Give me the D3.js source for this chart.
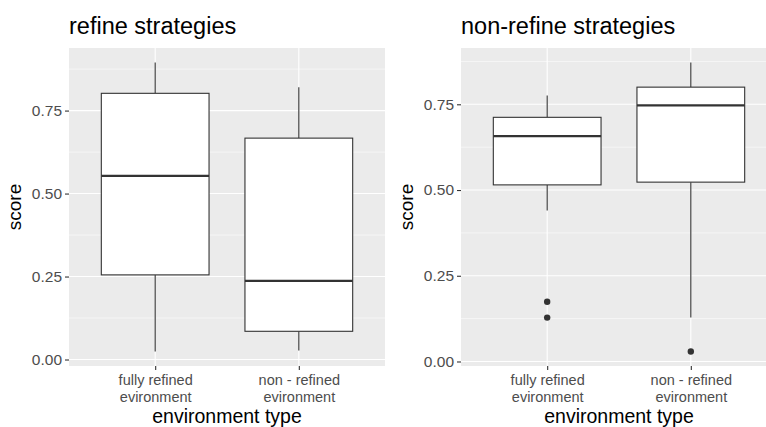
<!DOCTYPE html>
<html>
<head>
<meta charset="utf-8">
<script src="https://cdn.jsdelivr.net/npm/d3@7"></script>
<style>
  html, body { margin: 0; padding: 0; background: #fff; }
  svg { display: block; font-family: "Liberation Sans", Arial, Helvetica, sans-serif; }
</style>
</head>
<body>
<svg id="chart" width="766" height="427"></svg>
<script>
// ---- data ----
const categories = ["fully refined\nevironment", "non - refined\nevironment"];
const panelTitles = ["refine strategies", "non-refine strategies"];
const yTicks = [0, 0.25, 0.5, 0.75];
const yMinorTicks = [0.125, 0.375, 0.625, 0.875];

// [whisker low, q1, median, q3, whisker high]
const refineStats = [
  [0.024, 0.255, 0.553, 0.802, 0.895],
  [0.027, 0.085, 0.237, 0.667, 0.820]
];
const refineOutliers = [[], []];

const nonRefineStats = [
  [0.440, 0.515, 0.657, 0.712, 0.776],
  [0.128, 0.523, 0.747, 0.800, 0.872]
];
const nonRefineOutliers = [[0.174, 0.128], [0.029]];

const xTitle = "environment type";
const yTitle = "score";

// ---- drawing ----
const svg = d3.select("#chart");
const panels = [
  { left: 69, stats: refineStats, outliers: refineOutliers, title: panelTitles[0] },
  { left: 461, stats: nonRefineStats, outliers: nonRefineOutliers, title: panelTitles[1] }
];
const panelW = 316, pTop = 48, pBottom = 366;

panels.forEach(p => {
  const g = svg.append("g");
  const allVals = p.stats.flat().concat(p.outliers.flat());
  const lo = d3.min(allVals), hi = d3.max(allVals);
  const pad = (hi - lo) * 0.05;
  const y = d3.scaleLinear().domain([lo - pad, hi + pad]).range([pBottom, pTop]);
  const x = d3.scalePoint().domain(categories).range([p.left, p.left + panelW]).padding(0.6);
  const bw = x.step() * 0.75;

  // background
  g.append("rect").attr("x", p.left).attr("y", pTop).attr("width", panelW).attr("height", pBottom - pTop).attr("fill", "#EBEBEB");
  // minor grid
  g.selectAll(".minor").data(yMinorTicks).enter().append("line")
    .attr("x1", p.left).attr("x2", p.left + panelW)
    .attr("y1", d => y(d)).attr("y2", d => y(d))
    .attr("stroke", "#fff").attr("stroke-width", 0.55);
  // major grid
  g.selectAll(".major").data(yTicks).enter().append("line")
    .attr("x1", p.left).attr("x2", p.left + panelW)
    .attr("y1", d => y(d)).attr("y2", d => y(d))
    .attr("stroke", "#fff").attr("stroke-width", 1.1);
  g.selectAll(".vmajor").data(categories).enter().append("line")
    .attr("x1", d => x(d)).attr("x2", d => x(d))
    .attr("y1", pTop).attr("y2", pBottom)
    .attr("stroke", "#fff").attr("stroke-width", 1.1);

  // boxes
  categories.forEach((c, i) => {
    const s = p.stats[i];
    const cx = x(c);
    const bg = g.append("g");
    bg.append("line").attr("x1", cx).attr("x2", cx).attr("y1", y(s[4])).attr("y2", y(s[3]))
      .attr("stroke", "#333").attr("stroke-width", 1.1);
    bg.append("line").attr("x1", cx).attr("x2", cx).attr("y1", y(s[1])).attr("y2", y(s[0]))
      .attr("stroke", "#333").attr("stroke-width", 1.1);
    bg.append("rect").attr("x", cx - bw / 2).attr("width", bw)
      .attr("y", y(s[3])).attr("height", y(s[1]) - y(s[3]))
      .attr("fill", "#fff").attr("stroke", "#333").attr("stroke-width", 1.1);
    bg.append("line").attr("x1", cx - bw / 2).attr("x2", cx + bw / 2)
      .attr("y1", y(s[2])).attr("y2", y(s[2]))
      .attr("stroke", "#333").attr("stroke-width", 2.3);
    bg.selectAll("circle").data(p.outliers[i]).enter().append("circle")
      .attr("cx", cx).attr("cy", d => y(d)).attr("r", 3.2).attr("fill", "#333");
  });

  // y axis
  const ya = g.append("g").attr("transform", `translate(${p.left},0)`)
    .call(d3.axisLeft(y).tickValues(yTicks).tickFormat(d3.format(".2f")).tickSize(4).tickPadding(3));
  ya.select(".domain").remove();
  ya.selectAll(".tick line").attr("stroke", "#333").attr("stroke-width", 1.1);
  ya.selectAll(".tick text").attr("fill", "#4D4D4D").style("font-size", "15.5px")
    .style("font-family", "'Liberation Sans', Arial, sans-serif");

  // x axis
  const xa = g.append("g").attr("transform", `translate(0,${pBottom})`)
    .call(d3.axisBottom(x).tickSize(4).tickFormat(""));
  xa.select(".domain").remove();
  xa.selectAll(".tick line").attr("stroke", "#333").attr("stroke-width", 1.1);
  xa.selectAll(".tick").each(function (d) {
    const t = d3.select(this).append("text").attr("fill", "#4D4D4D")
      .attr("text-anchor", "middle").style("font-size", "14.5px")
      .style("font-family", "'Liberation Sans', Arial, sans-serif");
    d.split("\n").forEach((line, k) => {
      t.append("tspan").attr("x", 0).attr("y", 19 + k * 16.8).text(line);
    });
  });

  // titles
  g.append("text").attr("x", p.left).attr("y", 34).attr("fill", "#000")
    .style("font-size", "23.5px").text(p.title);
  g.append("text").attr("x", p.left + panelW / 2).attr("y", 423).attr("fill", "#000")
    .attr("text-anchor", "middle").style("font-size", "19.5px").text(xTitle);
  g.append("text").attr("transform", `translate(${p.left - 48},${(pTop + pBottom) / 2}) rotate(-90)`)
    .attr("fill", "#000").attr("text-anchor", "middle").style("font-size", "19px").text(yTitle);
});
</script>
</body>
</html>
